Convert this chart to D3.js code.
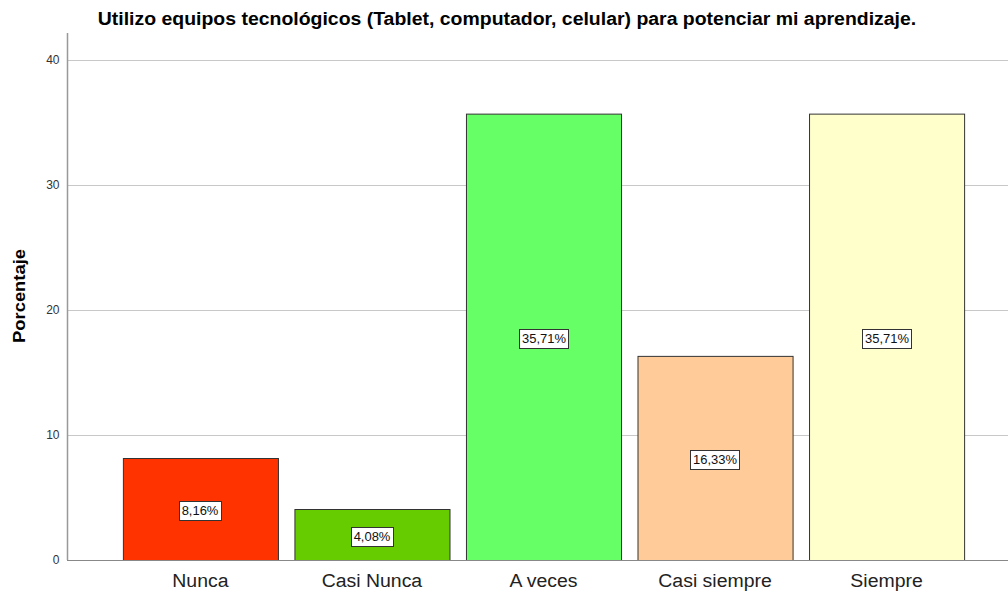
<!DOCTYPE html>
<html>
<head>
<meta charset="utf-8">
<script src="https://cdn.jsdelivr.net/npm/d3@7"></script>
<style>
  body { margin: 0; background: #fff; }
  text { font-family: "Liberation Sans", Arial, sans-serif; }
</style>
</head>
<body>
<div id="chart"></div>
<script>
var categories = ["Nunca", "Casi Nunca", "A veces", "Casi siempre", "Siempre"];
var values = [8.16, 4.08, 35.71, 16.33, 35.71];
var labels = ["8,16%", "4,08%", "35,71%", "16,33%", "35,71%"];
var colors = ["#ff3300", "#66cc00", "#66ff66", "#ffcc99", "#ffffcc"];
var yTicks = [0, 10, 20, 30, 40];

var width = 1008, height = 591;
var stretch = 1.08;
var svg = d3.select("#chart").append("svg")
	.attr("width", width)
	.attr("height", height);

// widen text a bit, the original font runs wider than Liberation Sans
var widen = function(sel)
{
	sel.each(function(){
		var w = this.getComputedTextLength();
		d3.select(this).attr("textLength", w * stretch)
			.attr("lengthAdjust", "spacingAndGlyphs");
	});
}

var x = d3.scaleBand()
	.domain(categories)
	.range([68, 1019])
	.paddingInner(0.096)
	.paddingOuter(0.32);

var y = d3.scaleLinear()
	.domain([0, 40])
	.range([560, 60]);

// grid lines
svg.append("g").selectAll("line")
	.data(yTicks.filter(function(d){ return d > 0; }))
	.enter().append("line")
	.attr("x1", 68).attr("x2", width)
	.attr("y1", function(d){ return y(d) + 0.5; })
	.attr("y2", function(d){ return y(d) + 0.5; })
	.attr("stroke", "#c8c8c8")
	.attr("stroke-width", 1);

// y axis
var yAxis = d3.axisLeft(y).tickValues(yTicks).tickSize(0).tickPadding(8);
var gy = svg.append("g").attr("transform", "translate(67.5,0)").call(yAxis);
gy.select(".domain").remove();
gy.selectAll("text").attr("font-size", 12).attr("fill", "#333")
	.style("font-family", "'Liberation Sans', Arial, sans-serif");
svg.append("line")
	.attr("x1", 67.5).attr("x2", 67.5)
	.attr("y1", 33).attr("y2", 560)
	.attr("stroke", "#999").attr("stroke-width", 1.5);

// bars
svg.append("g").selectAll("rect")
	.data(values)
	.enter().append("rect")
	.attr("x", function(d, i){ return x(categories[i]) + 0.5; })
	.attr("y", function(d){ return y(d) + 0.5; })
	.attr("width", x.bandwidth())
	.attr("height", function(d){ return y(0) - y(d); })
	.attr("fill", function(d, i){ return colors[i]; })
	.attr("stroke", "#333")
	.attr("stroke-width", 1);

// baseline
svg.append("line")
	.attr("x1", 67).attr("x2", width)
	.attr("y1", 560.5).attr("y2", 560.5)
	.attr("stroke", "#888").attr("stroke-width", 1);

// value labels
var lab = svg.append("g").selectAll("g")
	.data(values)
	.enter().append("g")
	.attr("transform", function(d, i){
		var cx = Math.round(x(categories[i]) + x.bandwidth() / 2);
		var cy = Math.round((y(d) + y(0)) / 2) + 2;
		return "translate(" + cx + "," + cy + ")";
	});
lab.append("text")
	.attr("text-anchor", "middle")
	.attr("dy", "0.36em")
	.attr("font-size", 12)
	.attr("fill", "#111")
	.text(function(d, i){ return labels[i]; })
	.call(widen);
lab.each(function(){
	var g = d3.select(this);
	var bb = g.select("text").node().getBBox();
	var w = Math.round(bb.width) + 5;
	g.insert("rect", "text")
		.attr("x", -Math.round(w / 2) + 0.5)
		.attr("y", -9.5)
		.attr("width", w)
		.attr("height", 19)
		.attr("fill", "#fff")
		.attr("stroke", "#333")
		.attr("stroke-width", 1);
});

// category labels
svg.append("g").selectAll("text")
	.data(categories)
	.enter().append("text")
	.attr("x", function(d){ return x(d) + x.bandwidth() / 2; })
	.attr("y", 587)
	.attr("text-anchor", "middle")
	.attr("font-size", 18)
	.attr("fill", "#222")
	.text(function(d){ return d; })
	.call(widen);

// title
svg.append("text")
	.attr("x", 507)
	.attr("y", 25)
	.attr("text-anchor", "middle")
	.attr("font-size", 18)
	.attr("font-weight", "bold")
	.attr("fill", "#000")
	.text("Utilizo equipos tecnológicos (Tablet, computador, celular) para potenciar mi aprendizaje.")
	.call(widen);

// y label
svg.append("text")
	.attr("transform", "translate(25,296) rotate(-90)")
	.attr("text-anchor", "middle")
	.attr("font-size", 17)
	.attr("font-weight", "bold")
	.attr("fill", "#000")
	.text("Porcentaje")
	.call(widen);
</script>
</body>
</html>
